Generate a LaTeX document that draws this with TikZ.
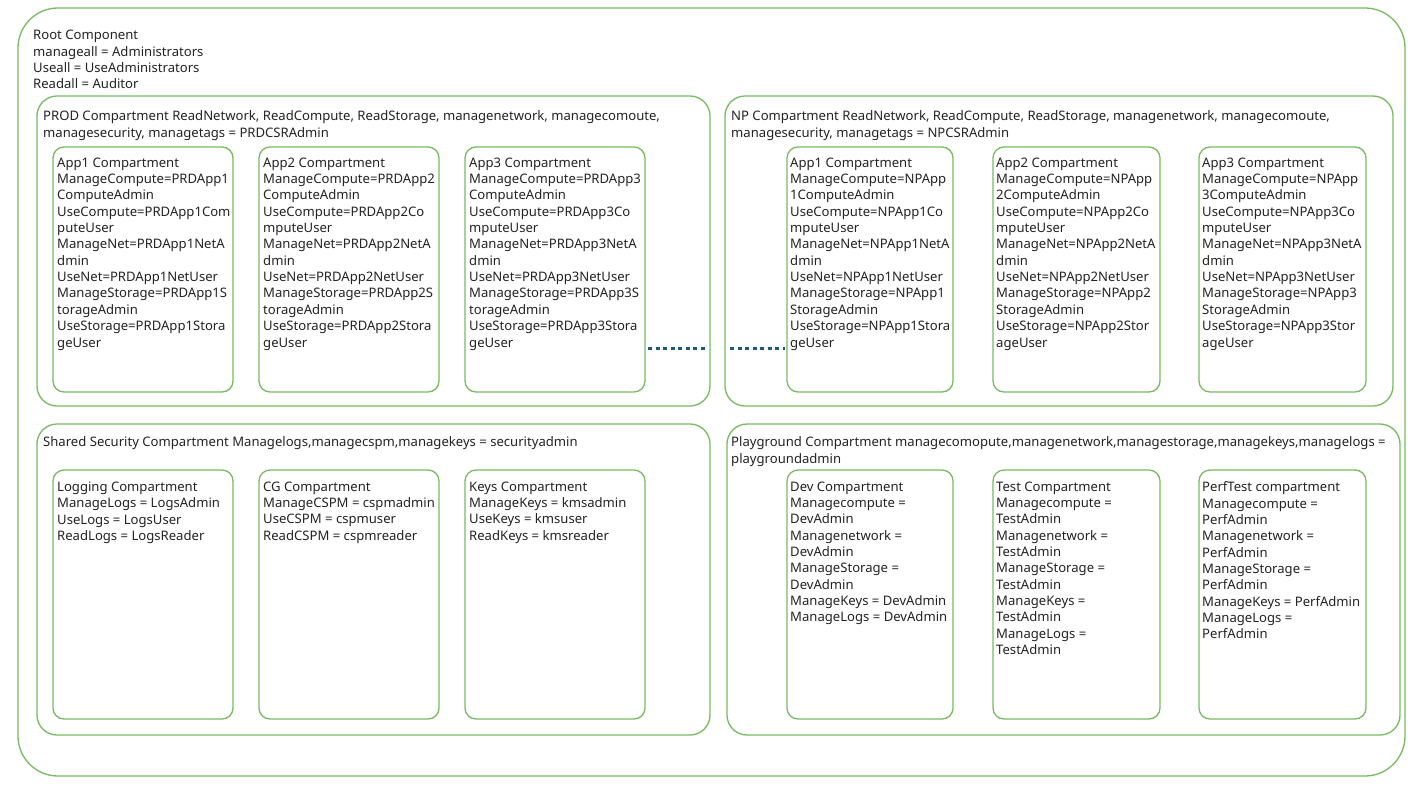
\documentclass[tikz,border=0pt]{standalone}
\usepackage{fontspec}
\setmainfont{Noto Sans}
\definecolor{gline}{RGB}{120,186,98}
\definecolor{txtc}{RGB}{35,35,35}
\definecolor{dotc}{RGB}{30,90,122}
\tikzset{
  box/.style={draw=gline, line width=1.3pt, inner sep=0pt, outer sep=0pt, anchor=north west},
  rootbox/.style={box, rounded corners=40pt},
  compbox/.style={box, rounded corners=20pt},
  appbox/.style={box, rounded corners=11pt},
  txt/.style={anchor=north west, inner sep=0pt, align=left, text=txtc, font=\fontsize{13.1}{16.35}\selectfont},
  dotline/.style={draw=dotc, line width=3pt, dash pattern=on 4pt off 3.5pt}
}
\begin{document}
\begin{tikzpicture}[x=1pt,y=-1pt]
\useasboundingbox[fill=white] (0,0) rectangle (1420,784);
% root
\node[rootbox, minimum width=1387pt, minimum height=768pt] (root) at (18,8) {};
\node[txt] (roott) at (33,30) {Root Component\\manageall = Administrators\\Useall = UseAdministrators\\Readall = Auditor};
% PROD
\node[compbox, minimum width=673pt, minimum height=310pt] (prod) at (37,96) {};
\node[txt] (prodt) at (43,110.5) {PROD Compartment ReadNetwork, ReadCompute, ReadStorage, managenetwork, managecomoute,\\managesecurity, managetags = PRDCSRAdmin};
\node[appbox, minimum width=180pt, minimum height=245pt] (p1) at (53,147) {};
\node[appbox, minimum width=180pt, minimum height=245pt] (p2) at (259,147) {};
\node[appbox, minimum width=180pt, minimum height=245pt] (p3) at (465,147) {};
\node[txt] (p1t) at (57,157.5) {App1 Compartment\\ManageCompute=PRDApp1\\ComputeAdmin\\UseCompute=PRDApp1Com\\puteUser\\ManageNet=PRDApp1NetA\\dmin\\UseNet=PRDApp1NetUser\\ManageStorage=PRDApp1S\\torageAdmin\\UseStorage=PRDApp1Stora\\geUser};
\node[txt] (p2t) at (263,157.5) {App2 Compartment\\ManageCompute=PRDApp2\\ComputeAdmin\\UseCompute=PRDApp2Co\\mputeUser\\ManageNet=PRDApp2NetA\\dmin\\UseNet=PRDApp2NetUser\\ManageStorage=PRDApp2S\\torageAdmin\\UseStorage=PRDApp2Stora\\geUser};
\node[txt] (p3t) at (469,157.5) {App3 Compartment\\ManageCompute=PRDApp3\\ComputeAdmin\\UseCompute=PRDApp3Co\\mputeUser\\ManageNet=PRDApp3NetA\\dmin\\UseNet=PRDApp3NetUser\\ManageStorage=PRDApp3S\\torageAdmin\\UseStorage=PRDApp3Stora\\geUser};
% NP
\node[compbox, minimum width=668pt, minimum height=310pt] (np) at (725,96) {};
\node[txt] (npt) at (731,110.5) {NP Compartment ReadNetwork, ReadCompute, ReadStorage, managenetwork, managecomoute,\\managesecurity, managetags = NPCSRAdmin};
\node[appbox, minimum width=166pt, minimum height=245pt] (n1) at (787,147) {};
\node[appbox, minimum width=167pt, minimum height=245pt] (n2) at (993,147) {};
\node[appbox, minimum width=167pt, minimum height=245pt] (n3) at (1199,147) {};
\node[txt] (n1t) at (790,157.5) {App1 Compartment\\ManageCompute=NPApp\\1ComputeAdmin\\UseCompute=NPApp1Co\\mputeUser\\ManageNet=NPApp1NetA\\dmin\\UseNet=NPApp1NetUser\\ManageStorage=NPApp1\\StorageAdmin\\UseStorage=NPApp1Stora\\geUser};
\node[txt] (n2t) at (996,157.5) {App2 Compartment\\ManageCompute=NPApp\\2ComputeAdmin\\UseCompute=NPApp2Co\\mputeUser\\ManageNet=NPApp2NetA\\dmin\\UseNet=NPApp2NetUser\\ManageStorage=NPApp2\\StorageAdmin\\UseStorage=NPApp2Stor\\ageUser};
\node[txt] (n3t) at (1202,157.5) {App3 Compartment\\ManageCompute=NPApp\\3ComputeAdmin\\UseCompute=NPApp3Co\\mputeUser\\ManageNet=NPApp3NetA\\dmin\\UseNet=NPApp3NetUser\\ManageStorage=NPApp3\\StorageAdmin\\UseStorage=NPApp3Stor\\ageUser};
% Shared security
\node[compbox, minimum width=673pt, minimum height=311pt] (sec) at (37,424) {};
\node[txt] (sect) at (43,436.5) {Shared Security Compartment Managelogs,managecspm,managekeys = securityadmin};
\node[appbox, minimum width=180pt, minimum height=249pt] (s1) at (53,470) {};
\node[appbox, minimum width=180pt, minimum height=249pt] (s2) at (259,470) {};
\node[appbox, minimum width=180pt, minimum height=249pt] (s3) at (465,470) {};
\node[txt] (s1t) at (57,481.5) {Logging Compartment\\ManageLogs = LogsAdmin\\UseLogs = LogsUser\\ReadLogs = LogsReader};
\node[txt] (s2t) at (263,481.5) {CG Compartment\\ManageCSPM = cspmadmin\\UseCSPM = cspmuser\\ReadCSPM = cspmreader};
\node[txt] (s3t) at (469,481.5) {Keys Compartment\\ManageKeys = kmsadmin\\UseKeys = kmsuser\\ReadKeys = kmsreader};
% Playground
\node[compbox, minimum width=673pt, minimum height=311pt] (pg) at (727,424) {};
\node[txt] (pgt) at (731,436.5) {Playground Compartment managecomopute,managenetwork,managestorage,managekeys,managelogs =\\playgroundadmin};
\node[appbox, minimum width=166pt, minimum height=249pt] (g1) at (787,470) {};
\node[appbox, minimum width=167pt, minimum height=249pt] (g2) at (993,470) {};
\node[appbox, minimum width=167pt, minimum height=249pt] (g3) at (1199,470) {};
\node[txt] (g1t) at (790,481.5) {Dev Compartment\\Managecompute =\\DevAdmin\\Managenetwork =\\DevAdmin\\ManageStorage =\\DevAdmin\\ManageKeys = DevAdmin\\ManageLogs = DevAdmin};
\node[txt] (g2t) at (996,481.5) {Test Compartment\\Managecompute =\\TestAdmin\\Managenetwork =\\TestAdmin\\ManageStorage =\\TestAdmin\\ManageKeys =\\TestAdmin\\ManageLogs =\\TestAdmin};
\node[txt] (g3t) at (1202,481.5) {PerfTest compartment\\Managecompute =\\PerfAdmin\\Managenetwork =\\PerfAdmin\\ManageStorage =\\PerfAdmin\\ManageKeys = PerfAdmin\\ManageLogs =\\PerfAdmin};
% dotted connector
\coordinate (dl) at (0,348);
\draw[dotline, shorten <=3pt, shorten >=5pt] (p3.east |- dl) -- (prod.east |- dl);
\draw[dotline, shorten <=5pt, shorten >=2pt] (np.west |- dl) -- (n1.west |- dl);
\end{tikzpicture}
\end{document}
